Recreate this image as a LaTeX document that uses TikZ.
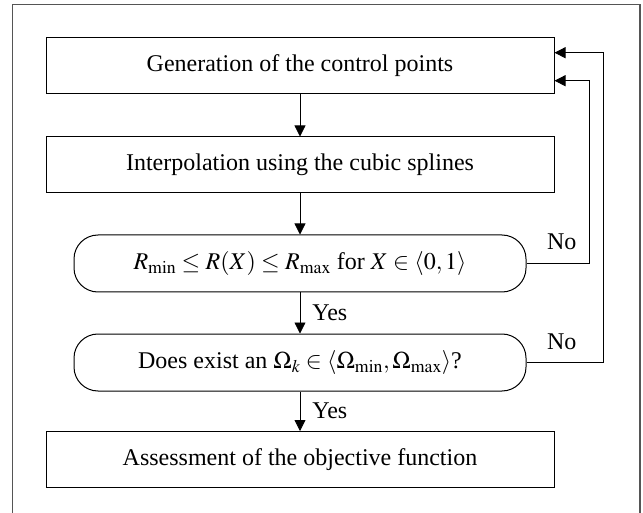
\documentclass[tikz,border=0pt]{standalone}
\usepackage{mathptmx}
\usepackage[no-math]{fontspec}
\setmainfont{Liberation Serif}
\usetikzlibrary{arrows.meta}
\definecolor{framegray}{HTML}{555555}
\begin{document}
\begin{tikzpicture}[x=1pt,y=-1pt,
  every node/.style={font=\fontsize{24}{28}\selectfont},
  procbox/.style={draw, line width=1pt, minimum width=508pt, minimum height=56pt, inner sep=0pt},
  testbox/.style={draw, line width=1pt, rounded corners=24pt, minimum width=452pt, minimum height=57pt, inner sep=0pt},
  arr/.style={line width=0.8pt, -{Triangle[length=11pt,width=11pt]}},
  lbl/.style={inner sep=0pt}]
\useasboundingbox (0,0) rectangle (643,513);
\begin{scope}
\clip (0,0) rectangle (643,513);
\draw[framegray, line width=1.3pt] (12.5,530) -- (12.5,4.7) -- (640,4.7) -- (640,530);
\end{scope}
\node[procbox] (gen) at (300,66) {Generation of the control points};
\node[procbox] (interp) at (300,165) {Interpolation using the cubic splines};
\node[testbox] (c1) at (300,263.5) {$R_{\min} \le R(X) \le R_{\max}$ for $X \in \langle 0, 1\rangle$};
\node[testbox] (c2) at (300,362.5) {Does exist an $\Omega_k \in \langle \Omega_{\min}, \Omega_{\max}\rangle$?};
\node[procbox] (assess) at (300,459.5) {Assessment of the objective function};
\draw[arr] (gen) -- (interp);
\draw[arr] (interp) -- (c1);
\draw[arr] (c1) -- node[lbl, anchor=west, xshift=12pt] (y1) {Yes} (c2);
\draw[arr] (c2) -- node[lbl, anchor=west, xshift=12pt] (y2) {Yes} (assess);
\draw[arr] (c1.east) -| ([xshift=35pt,yshift=-14.7pt]gen.east) -- ([yshift=-14.7pt]gen.east);
\draw[arr] (c2.east) -| ([xshift=49pt,yshift=13.3pt]gen.east) -- ([yshift=13.3pt]gen.east);
\node[lbl] (n1) at (561.7,242) {No};
\node[lbl] (n2) at (561.7,341.7) {No};
\end{tikzpicture}
\end{document}
